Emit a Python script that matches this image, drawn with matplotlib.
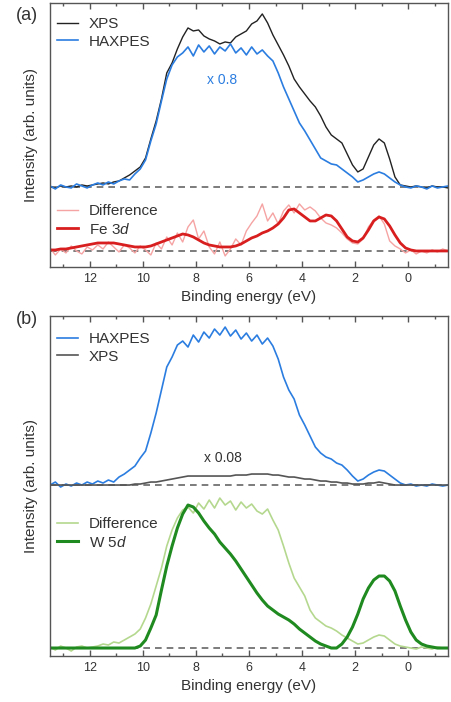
import matplotlib
matplotlib.use('Agg')
import matplotlib.pyplot as plt
import numpy as np
from matplotlib.ticker import MultipleLocator

plt.rcParams['font.family'] = ['Liberation Sans', 'DejaVu Sans']
plt.rcParams['mathtext.fontset'] = 'custom'
plt.rcParams['mathtext.rm'] = 'Liberation Sans'
plt.rcParams['mathtext.it'] = 'Liberation Sans:italic'

# binding energy grid (eV), shared by all spectra
energy = [13.5, 13.3, 13.1, 12.9, 12.7, 12.5, 12.3, 12.1, 11.9, 11.7,
          11.5, 11.3, 11.1, 10.9, 10.7, 10.5, 10.3, 10.1, 9.9, 9.7,
          9.5, 9.3, 9.1, 8.9, 8.7, 8.5, 8.3, 8.1, 7.9, 7.7,
          7.5, 7.3, 7.1, 6.9, 6.7, 6.5, 6.3, 6.1, 5.9, 5.7,
          5.5, 5.3, 5.1, 4.9, 4.7, 4.5, 4.3, 4.1, 3.9, 3.7,
          3.5, 3.3, 3.1, 2.9, 2.7, 2.5, 2.3, 2.1, 1.9, 1.7,
          1.5, 1.3, 1.1, 0.9, 0.7, 0.5, 0.3, 0.1, -0.1, -0.3,
          -0.5, -0.7, -0.9, -1.1, -1.3, -1.5]

# panel (a)
xps_a = [0, -1, 1, 0, 1, 0, 2, 1, 2, 3,
         4, 3, 5, 6, 9, 12, 16, 20, 29, 48,
         66, 88, 114, 124, 138, 150, 159, 156, 157, 151,
         148, 146, 143, 145, 144, 150, 153, 156, 163, 166,
         173, 164, 152, 142, 132, 121, 108, 100, 93, 86,
         80, 71, 60, 52, 48, 44, 33, 22, 15, 18,
         30, 42, 48, 44, 28, 10, 2, 1, 0, 1,
         0, -1, 1, 0, 0, -1]
haxpes_a = [1, -2, 2, 0, -1, 3, 1, -1, 2, 4,
            2, 5, 3, 6, 8, 7, 13, 18, 27, 46,
            63, 86, 108, 122, 130, 134, 140, 131, 142, 135,
            141, 133, 140, 136, 143, 134, 139, 132, 140, 133,
            137, 131, 126, 114, 100, 88, 76, 64, 56, 47,
            38, 29, 26, 23, 22, 18, 14, 10, 5, 7,
            10, 13, 15, 13, 9, 5, 2, 0, -1, 1,
            0, -2, 1, -1, 0, 1]
diff_a = [3, -4, 2, -2, 5, 0, -3, 4, 1, 6,
          2, 9, 4, -1, 6, 3, -2, 5, 1, -4,
          8, 2, 14, 6, 18, 9, 24, 31, 12, 20,
          4, -3, 9, -5, 2, 12, 6, 20, 28, 35,
          47, 30, 38, 27, 40, 46, 38, 47, 41, 44,
          40, 33, 28, 26, 23, 18, 12, 8, 7, 12,
          24, 31, 35, 27, 10, 5, 2, -2, 1, -3,
          0, -2, 1, -1, 2, 0]
fe3d = [1, 1, 2, 2, 3, 4, 5, 6, 7, 8,
        8, 8, 8, 7, 6, 5, 4, 4, 4, 5,
        7, 9, 11, 13, 15, 17, 16, 14, 11, 8,
        6, 5, 4, 4, 4, 5, 7, 10, 13, 15,
        18, 20, 23, 27, 33, 41, 42, 38, 34, 30,
        30, 33, 36, 35, 30, 22, 14, 10, 9, 13,
        21, 30, 34, 32, 25, 16, 8, 3, 1, 0,
        0, 0, 0, 0, 0, 0]

# panel (b)
haxpes_b = [0, 3, -2, 1, -1, 2, 0, 3, 1, 4,
            2, 5, 3, 8, 11, 15, 19, 27, 34, 52,
            72, 95, 118, 128, 140, 144, 138, 150, 143, 153,
            147, 156, 150, 158, 149, 155, 146, 152, 144, 150,
            141, 147, 139, 126, 108, 95, 86, 70, 60, 49,
            38, 32, 28, 26, 22, 20, 15, 9, 4, 6,
            10, 13, 15, 14, 10, 6, 2, 0, 1, -1,
            0, -1, 1, 0, -1, 0]
xps_b = [0, 0, 0, 0, 0, 0, 0, 0, 0, 0,
         0, 0, 0, 0, 0, 0, 1, 1, 2, 3,
         3, 4, 5, 6, 7, 8, 9, 9, 9, 9,
         9, 9, 9, 9, 9, 10, 10, 10, 11, 11,
         11, 11, 10, 10, 9, 8, 8, 7, 6, 6,
         5, 4, 4, 3, 3, 2, 2, 1, 1, 1,
         2, 2, 3, 2, 1, 0, 0, 0, 0, 0,
         0, 0, 0, 0, 0, 0]
diff_b = [1, -2, 2, 0, -3, 1, 2, 0, 1, 2,
          4, 3, 6, 5, 8, 11, 14, 19, 30, 44,
          62, 80, 102, 118, 130, 138, 141, 135, 145, 139,
          148, 140, 150, 143, 147, 138, 146, 140, 144, 137,
          134, 139, 128, 118, 102, 85, 70, 61, 52, 38,
          30, 26, 22, 20, 17, 13, 10, 7, 4, 5,
          8, 11, 13, 12, 8, 4, 2, 1, 0, -1,
          1, 0, -1, 1, 0, 0]
w5d = [0, 0, 0, 0, 0, 0, 0, 0, 0, 0,
       0, 0, 0, 0, 0, 0, 0, 2, 8, 20,
       33, 58, 82, 102, 120, 134, 143, 141, 135, 127,
       120, 114, 106, 100, 94, 87, 79, 71, 63, 55,
       48, 42, 38, 34, 31, 28, 24, 19, 15, 11,
       7, 4, 2, 0, 0, 4, 11, 21, 34, 49,
       60, 68, 72, 72, 67, 57, 42, 28, 16, 8,
       4, 2, 1, 0, 0, 0]

x = np.array(energy)
offset_a = 64
offset_b = 163

txt = '#333333'
edge = '#555555'

fig = plt.figure(figsize=(4.51, 7.02), dpi=100)
ax_a = fig.add_axes([0.1109, 0.6197, 0.8825, 0.3761])
ax_b = fig.add_axes([0.1109, 0.0655, 0.8825, 0.4843])

# (a)
ax_a.axhline(offset_a, color='#666666', lw=1.2, ls=(0, (4, 3)), zorder=1)
ax_a.axhline(0, color='#666666', lw=1.2, ls=(0, (4, 3)), zorder=1)
l1, = ax_a.plot(x, np.array(xps_a) + offset_a, color='#222222', lw=1.0, label='XPS')
l2, = ax_a.plot(x, np.array(haxpes_a) + offset_a, color='#2b7de0', lw=1.2, label='HAXPES')
l3, = ax_a.plot(x, diff_a, color='#f6a3a3', lw=1.0, label='Difference')
l4, = ax_a.plot(x, fe3d, color='#d81e1e', lw=2.0, label='Fe 3$d$')
ax_a.text(7.0, 171, 'x 0.8', color='#2b7de0', fontsize=10, ha='center', va='center')
ax_a.set_ylim(-16, 248)

# (b)
ax_b.axhline(offset_b, color='#666666', lw=1.2, ls=(0, (4, 3)), zorder=1)
ax_b.axhline(0, color='#666666', lw=1.2, ls=(0, (4, 3)), zorder=1)
m1, = ax_b.plot(x, np.array(haxpes_b) + offset_b, color='#2b7de0', lw=1.2, label='HAXPES')
m2, = ax_b.plot(x, np.array(xps_b) + offset_b, color='#555555', lw=1.2, label='XPS')
m3, = ax_b.plot(x, diff_b, color='#b5d88f', lw=1.2, label='Difference')
m4, = ax_b.plot(x, w5d, color='#1f8a1f', lw=2.2, label='W 5$d$')
ax_b.text(7.0, 190, 'x 0.08', color=txt, fontsize=10, ha='center', va='center')
ax_b.set_ylim(-8, 332)

legend_kw = dict(loc='upper left', frameon=False, fontsize=11, handlelength=1.4,
                 handletextpad=0.7, borderpad=0, borderaxespad=0, labelspacing=0.25,
                 labelcolor=txt)
for ax, top_h, bot_h, y_top, y_bot in [(ax_a, [l1, l2], [l3, l4], 0.947, 0.239),
                                       (ax_b, [m1, m2], [m3, m4], 0.953, 0.409)]:
    lg = ax.legend(handles=top_h, bbox_to_anchor=(0.0176, y_top), **legend_kw)
    ax.add_artist(lg)
    ax.legend(handles=bot_h, bbox_to_anchor=(0.0176, y_bot), **legend_kw)

    ax.set_xlim(13.5, -1.5)
    ax.xaxis.set_major_locator(MultipleLocator(2))
    ax.xaxis.set_minor_locator(MultipleLocator(1))
    ax.tick_params(axis='x', which='both', direction='in', top=True, colors=edge,
                   labelcolor=txt, labelsize=9, pad=4)
    ax.tick_params(axis='x', which='major', length=4, width=1)
    ax.tick_params(axis='x', which='minor', length=2.5, width=1)
    ax.set_yticks([])
    for s in ax.spines.values():
        s.set_color(edge)
        s.set_linewidth(1.0)
    ax.set_xlabel('Binding energy (eV)', fontsize=11, color=txt, labelpad=4)
    ax.set_ylabel('Intensity (arb. units)', fontsize=11, color=txt)
    ax.yaxis.set_label_coords(-0.03, 0.5)

fig.text(27 / 451, 1 - 15 / 702, '(a)', fontsize=13, color=txt, ha='center', va='center')
fig.text(27 / 451, 1 - 320 / 702, '(b)', fontsize=13, color=txt, ha='center', va='center')

fig.savefig('out.png', dpi=100)
